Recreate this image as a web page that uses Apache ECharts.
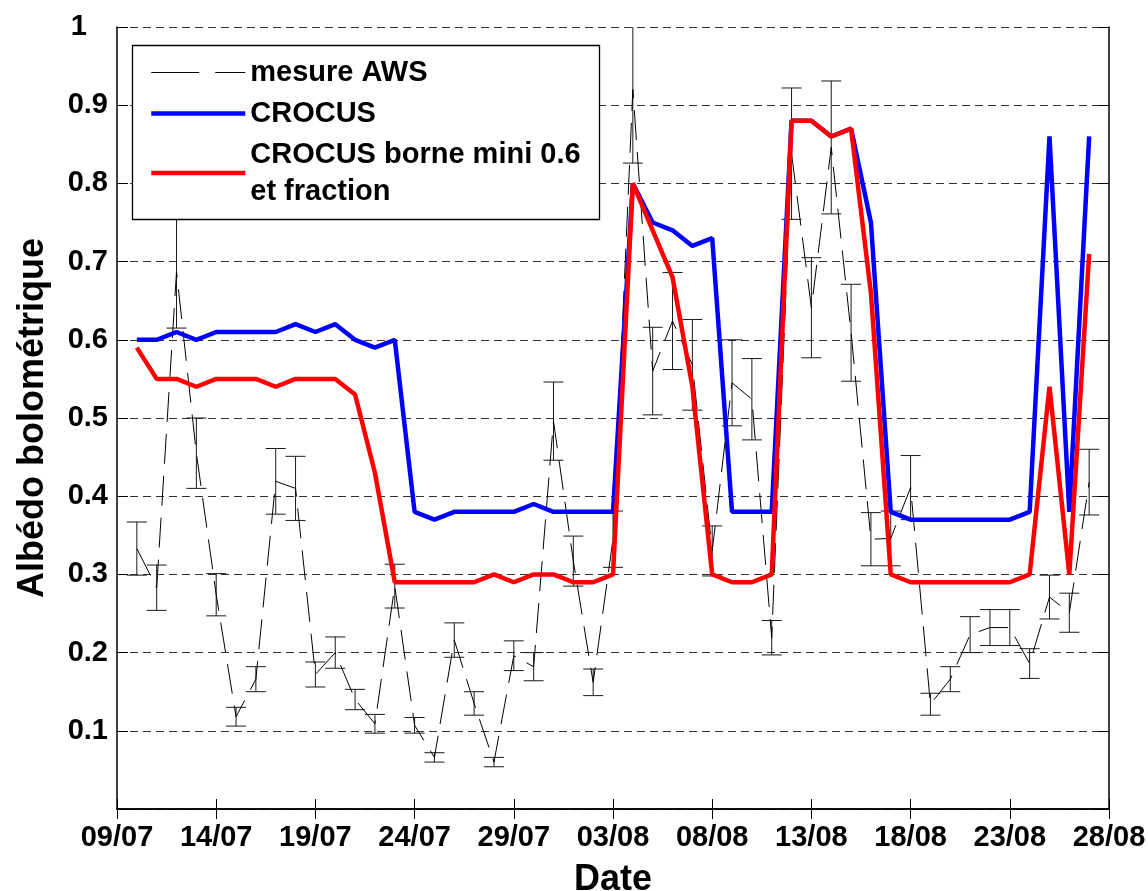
<!DOCTYPE html>
<html>
<head>
<meta charset="utf-8">
<script src="https://cdn.jsdelivr.net/npm/echarts@6/dist/echarts.min.js"></script>
<style>
html,body{margin:0;padding:0;background:#fff;}
#chart{width:1148px;height:891px;}
</style>
</head>
<body>
<div id="chart"></div>
<script>
// Daily categories on the x axis (09/07 .. 28/08)
const categories = [
  '09/07','10/07','11/07','12/07','13/07','14/07','15/07','16/07','17/07','18/07',
  '19/07','20/07','21/07','22/07','23/07','24/07','25/07','26/07','27/07','28/07',
  '29/07','30/07','31/07','01/08','02/08','03/08','04/08','05/08','06/08','07/08',
  '08/08','09/08','10/08','11/08','12/08','13/08','14/08','15/08','16/08','17/08',
  '18/08','19/08','20/08','21/08','22/08','23/08','24/08','25/08','26/08','27/08',
  '28/08'
];
// Days with values: 10/07 .. 27/08
const measureDates = categories.slice(1, 50);

// mesure AWS (mean) and error bar half-widths
const awsMean = [
  0.333, 0.283, 0.687, 0.455, 0.274, 0.118, 0.166, 0.419, 0.410, 0.172,
  0.200, 0.140, 0.109, 0.285, 0.107, 0.066, 0.216, 0.135, 0.060, 0.196,
  0.182, 0.496, 0.317, 0.162, 0.345, 0.920, 0.560, 0.624, 0.568, 0.330,
  0.545, 0.524, 0.219, 0.838, 0.641, 0.846, 0.609, 0.345, 0.346, 0.411,
  0.134, 0.166, 0.223, 0.232, 0.232, 0.186, 0.271, 0.251, 0.418
];
const awsErr = [
  0.034, 0.029, 0.072, 0.045, 0.027, 0.012, 0.016, 0.042, 0.041, 0.016,
  0.020, 0.013, 0.012, 0.028, 0.010, 0.006, 0.022, 0.015, 0.006, 0.019,
  0.018, 0.050, 0.032, 0.017, 0.036, 0.094, 0.056, 0.062, 0.058, 0.032,
  0.055, 0.052, 0.022, 0.084, 0.064, 0.085, 0.062, 0.034, 0.035, 0.041,
  0.014, 0.016, 0.023, 0.023, 0.023, 0.019, 0.028, 0.025, 0.042
];
// CROCUS
const crocus = [
  0.60, 0.60, 0.61, 0.60, 0.61, 0.61, 0.61, 0.61, 0.62, 0.61,
  0.62, 0.60, 0.59, 0.60, 0.38, 0.37, 0.38, 0.38, 0.38, 0.38,
  0.39, 0.38, 0.38, 0.38, 0.38, 0.80, 0.75, 0.74, 0.72, 0.73,
  0.38, 0.38, 0.38, 0.88, 0.88, 0.86, 0.87, 0.75, 0.38, 0.37,
  0.37, 0.37, 0.37, 0.37, 0.37, 0.38, 0.86, 0.38, 0.86
];
// CROCUS borne mini 0.6 et fraction
const crocusBorne = [
  0.59, 0.55, 0.55, 0.54, 0.55, 0.55, 0.55, 0.54, 0.55, 0.55,
  0.55, 0.53, 0.43, 0.29, 0.29, 0.29, 0.29, 0.29, 0.30, 0.29,
  0.30, 0.30, 0.29, 0.29, 0.30, 0.80, 0.74, 0.68, 0.54, 0.30,
  0.29, 0.29, 0.30, 0.88, 0.88, 0.86, 0.87, 0.66, 0.30, 0.29,
  0.29, 0.29, 0.29, 0.29, 0.29, 0.30, 0.54, 0.30, 0.71
];
const seriesNames = ['mesure AWS', 'CROCUS', 'CROCUS borne mini 0.6\net fraction'];
const yTitle = 'Albédo bolométrique';
const xTitle = 'Date';

const FONT = '"Liberation Sans", Arial, Helvetica, sans-serif';
const chart = echarts.init(document.getElementById('chart'), null, {renderer: 'canvas'});

const pair = arr => arr.map((v, i) => [measureDates[i], v]);
const errData = awsMean.map((m, i) => [measureDates[i], m, awsErr[i]]);

function renderErr(params, api) {
  const x = api.value(0), m = api.value(1), e = api.value(2);
  const top = api.coord([x, m + e]);
  const bot = api.coord([x, m - e]);
  const cs = params.coordSys;
  const half = 10;
  const children = [];
  let yTop = top[1], topCap = true;
  if (yTop < cs.y) { yTop = cs.y; topCap = false; }
  const st = {stroke: '#1a1a1a', lineWidth: 1};
  children.push({type: 'line', shape: {x1: top[0], y1: yTop, x2: bot[0], y2: bot[1]}, style: st});
  if (topCap) children.push({type: 'line', shape: {x1: top[0] - half, y1: yTop, x2: top[0] + half, y2: yTop}, style: st});
  children.push({type: 'line', shape: {x1: bot[0] - half, y1: bot[1], x2: bot[0] + half, y2: bot[1]}, style: st});
  return {type: 'group', children: children};
}

const hiddenSymbol = {opacity: 0, borderWidth: 0};
const axisLineStyle = {color: '#000', width: 1.5};
const option = {
  animation: false,
  backgroundColor: '#fff',
  textStyle: {fontFamily: FONT},
  grid: {left: 117, right: 39, top: 27, bottom: 82, containLabel: false, outerBoundsMode: 'none'},
  legend: {
    orient: 'vertical',
    left: 149, top: 54,
    padding: 0,
    itemGap: 4,
    itemWidth: 94,
    itemHeight: 14,
    selectedMode: false,
    z: 10,
    itemStyle: hiddenSymbol,
    textStyle: {fontSize: 29, fontWeight: 'bold', color: '#000', fontFamily: FONT, lineHeight: 37},
    data: [
      {name: seriesNames[0], itemStyle: hiddenSymbol, lineStyle: {type: [48, 16], width: 1, color: '#000'}},
      {name: seriesNames[1], itemStyle: hiddenSymbol, lineStyle: {width: 4.5, color: '#0000ff'}},
      {name: seriesNames[2], itemStyle: hiddenSymbol, lineStyle: {width: 4.5, color: '#ff0000'}}
    ]
  },
  graphic: [{
    type: 'rect', z: 8,
    shape: {x: 132.5, y: 45.5, width: 467, height: 174},
    style: {fill: '#fff', stroke: '#000', lineWidth: 1.3}
  }],
  xAxis: [{
    type: 'category', data: categories, boundaryGap: false, position: 'bottom',
    axisLine: {lineStyle: axisLineStyle},
    axisTick: {show: true, inside: true, length: 10, interval: 4, lineStyle: {color: '#000', width: 1}},
    axisLabel: {interval: 4, fontSize: 29, fontWeight: 'bold', color: '#000', margin: 14, fontFamily: FONT},
    splitLine: {show: false},
    name: xTitle, nameLocation: 'middle', nameGap: 53,
    nameTextStyle: {fontSize: 36, fontWeight: 'bold', color: '#000', fontFamily: FONT}
  }, {
    type: 'category', data: categories, boundaryGap: false, position: 'top',
    axisLine: {lineStyle: axisLineStyle},
    axisTick: {show: true, inside: true, length: 10, interval: 4, lineStyle: {color: '#000', width: 1}},
    axisLabel: {show: false},
    splitLine: {show: false}
  }],
  yAxis: [{
    type: 'value', min: 0, max: 1, interval: 0.1, position: 'left',
    axisLine: {show: true, lineStyle: axisLineStyle},
    axisTick: {show: true, inside: true, length: 11, lineStyle: {color: '#000', width: 1}},
    axisLabel: {
      fontSize: 29, fontWeight: 'bold', color: '#000', margin: 9, fontFamily: FONT,
      formatter: v => v === 0 ? '' : (Math.abs(v - 1) < 1e-9 ? '{one|1}' : v.toFixed(1)),
      rich: {one: {fontSize: 29, fontWeight: 'bold', color: '#000', fontFamily: FONT, padding: [0, 21, 0, 0]}}
    },
    splitLine: {show: true, lineStyle: {type: [8, 5], color: '#333', width: 1}},
    name: yTitle, nameLocation: 'middle', nameGap: 66,
    nameTextStyle: {fontSize: 36, fontWeight: 'bold', color: '#000', fontFamily: FONT}
  }, {
    type: 'value', min: 0, max: 1, interval: 0.1, position: 'right',
    axisLine: {show: true, lineStyle: axisLineStyle},
    axisTick: {show: true, inside: true, length: 11, lineStyle: {color: '#000', width: 1}},
    axisLabel: {show: false},
    splitLine: {show: false}
  }],
  series: [{
    name: 'errorbars', type: 'custom', renderItem: renderErr, data: errData,
    encode: {x: 0, y: 1}, z: 2, silent: true
  }, {
    name: seriesNames[0], type: 'line', data: pair(awsMean), symbol: 'none', z: 2,
    lineStyle: {color: '#000', width: 1, type: [30, 12]}, itemStyle: {color: '#000'}
  }, {
    name: seriesNames[1], type: 'line', data: pair(crocus), symbol: 'none', z: 3,
    lineStyle: {color: '#0000ff', width: 4.5}, itemStyle: {color: '#0000ff'}
  }, {
    name: seriesNames[2], type: 'line', data: pair(crocusBorne), symbol: 'none', z: 4,
    lineStyle: {color: '#ff0000', width: 4.5}, itemStyle: {color: '#ff0000'}
  }]
};
chart.setOption(option);
</script>
</body>
</html>
